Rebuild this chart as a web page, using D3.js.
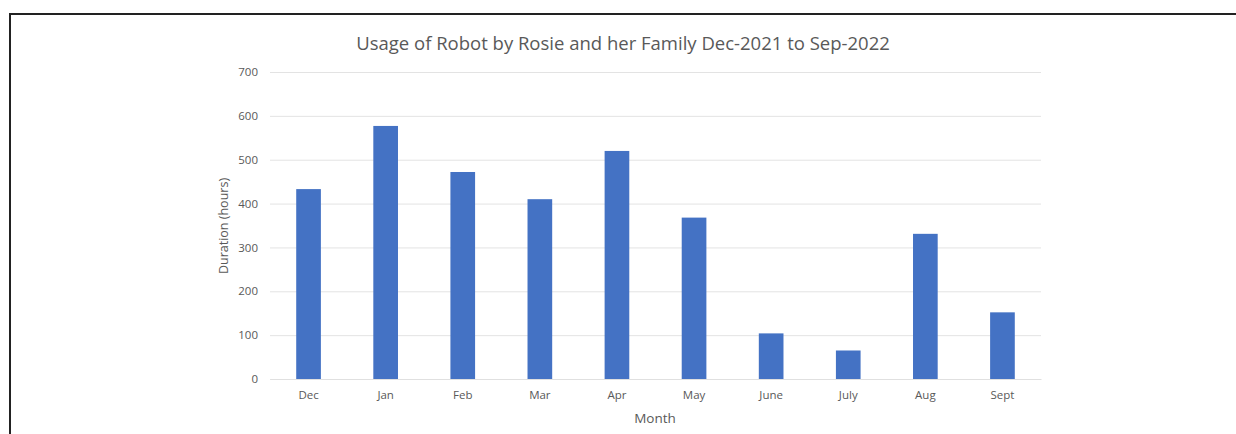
<!DOCTYPE html>
<html>
<head>
    <meta charset="utf-8" />
    <title>Robot usage</title>
    <script src="https://cdn.jsdelivr.net/npm/d3@7/dist/d3.min.js"></script>
    <style>
        body { margin: 0; background: #fff; }
        svg { display: block; font-family: "Open Sans", sans-serif; }
    </style>
</head>
<body>
    <div id="chart_container"></div>

    <script type="text/javascript">
        // data
        var months = ["Dec", "Jan", "Feb", "Mar", "Apr", "May", "June", "July", "Aug", "Sept"];
        var hours = [433, 577, 472, 410, 520, 368, 104, 65, 331, 152];
        var yTicks = [0, 100, 200, 300, 400, 500, 600, 700];

        var width = 1236, height = 434;
        var svg = d3.select("#chart_container").append("svg")
            .attr("width", width)
            .attr("height", height);

        // frame lines (top and left only)
        svg.append("line").attr("x1", 9).attr("x2", width).attr("y1", 14).attr("y2", 14)
            .attr("stroke", "#222").attr("stroke-width", 2);
        svg.append("line").attr("x1", 10).attr("x2", 10).attr("y1", 13).attr("y2", height)
            .attr("stroke", "#222").attr("stroke-width", 2);

        var x = d3.scaleBand().domain(months).range([270, 1041]).paddingInner(0.68).paddingOuter(0.34);
        var y = d3.scaleLinear().domain([0, 700]).range([379, 72]);

        // gridlines + y labels
        var yAxis = d3.axisLeft(y).tickValues(yTicks).tickSize(-(1041 - 270)).tickPadding(12);
        var gy = svg.append("g").attr("transform", "translate(270,0)").call(yAxis)
            .attr("font-family", "'Open Sans', sans-serif").attr("font-size", 11.5);
        gy.select(".domain").remove();
        gy.selectAll(".tick line").attr("stroke", "#e3e3e3").attr("stroke-width", 1);
        gy.selectAll(".tick text").attr("fill", "#595959");

        // x labels
        var xAxis = d3.axisBottom(x).tickSize(0).tickPadding(12);
        var gx = svg.append("g").attr("transform", "translate(0,379)").call(xAxis)
            .attr("font-family", "'Open Sans', sans-serif").attr("font-size", 11.5);
        gx.select(".domain").attr("stroke", "#e0e0e0");
        gx.selectAll(".tick text").attr("fill", "#595959");

        // bars
        svg.selectAll(".bar").data(months).enter().append("rect")
            .attr("class", "bar")
            .attr("x", function (d) { return x(d); })
            .attr("width", x.bandwidth())
            .attr("y", function (d, i) { return y(hours[i]); })
            .attr("height", function (d, i) { return y(0) - y(hours[i]); })
            .attr("fill", "#4472c4");

        // title and axis titles
        svg.append("text").attr("x", 623).attr("y", 50)
            .attr("text-anchor", "middle").attr("fill", "#595959")
            .style("font-size", "18.5px")
            .text("Usage of Robot by Rosie and her Family Dec-2021 to Sep-2022");
        svg.append("text").attr("x", 655).attr("y", 423)
            .attr("text-anchor", "middle").attr("fill", "#595959")
            .style("font-size", "13.5px")
            .text("Month");
        svg.append("text")
            .attr("transform", "translate(228,226) rotate(-90)")
            .attr("text-anchor", "middle").attr("fill", "#595959")
            .style("font-size", "12.5px")
            .text("Duration (hours)");
    </script>
</body>
</html>
